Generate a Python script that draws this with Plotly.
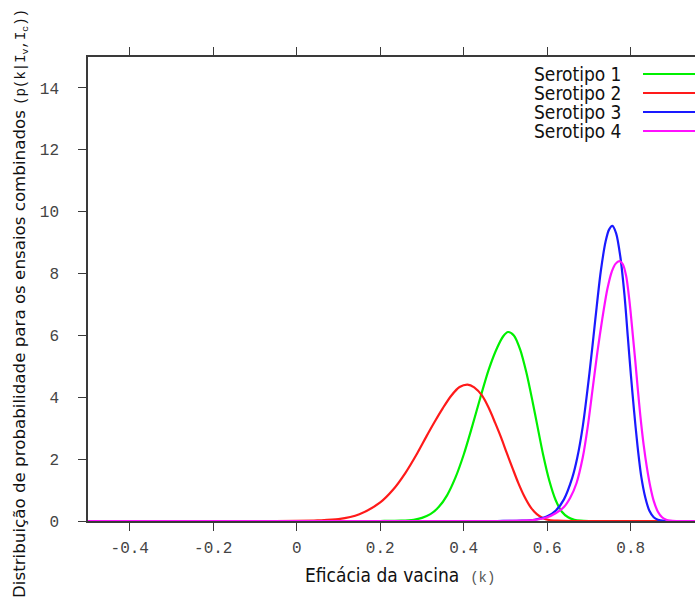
import plotly.graph_objects as go

# ---------------- data ----------------
serotipos = ["Serotipo 1", "Serotipo 2", "Serotipo 3", "Serotipo 4"]
cores = ["#00f000", "#ff1a1a", "#1a1aff", "#ff10ff"]

k_s1 = [-0.5, 0.20, 0.25, 0.28, 0.30, 0.32, 0.34, 0.36, 0.38, 0.40, 0.42,
        0.44, 0.46, 0.48, 0.495, 0.506, 0.52, 0.535, 0.55, 0.565, 0.576,
        0.59, 0.605, 0.62, 0.635, 0.65, 0.665, 0.68, 0.70, 0.75, 1.0]
p_s1 = [0.0, 0.0, 0.01, 0.04, 0.10, 0.22, 0.45, 0.83, 1.40, 2.15, 3.05,
        4.00, 4.90, 5.60, 5.98, 6.11, 6.00, 5.55, 4.80, 3.85, 3.10,
        2.15, 1.30, 0.68, 0.30, 0.12, 0.04, 0.01, 0.0, 0.0, 0.0]

k_s2 = [-0.5, -0.05, 0.0, 0.05, 0.10, 0.15, 0.20, 0.23, 0.26, 0.289, 0.31,
        0.33, 0.35, 0.37, 0.39, 0.409, 0.425, 0.444, 0.46, 0.475, 0.49,
        0.503, 0.517, 0.53, 0.545, 0.56, 0.575, 0.59, 0.605, 0.625, 0.66,
        0.75, 1.0]
p_s2 = [0.0, 0.0, 0.005, 0.02, 0.06, 0.22, 0.60, 1.00, 1.55, 2.20, 2.72,
        3.20, 3.65, 4.05, 4.33, 4.41, 4.32, 4.05, 3.65, 3.18, 2.68,
        2.20, 1.70, 1.25, 0.80, 0.45, 0.22, 0.09, 0.03, 0.01, 0.0,
        0.0, 0.0]

k_s3 = [-0.5, 0.48, 0.54, 0.57, 0.60, 0.62, 0.64, 0.66, 0.672, 0.685, 0.701,
        0.715, 0.728, 0.740, 0.748, 0.756, 0.765, 0.775, 0.785, 0.793, 0.800,
        0.808, 0.816, 0.825, 0.835, 0.845, 0.855, 0.865, 0.88, 0.90, 1.0]
p_s3 = [0.0, 0.0, 0.01, 0.04, 0.15, 0.33, 0.70, 1.40, 2.05, 3.05, 4.77,
        6.50, 8.05, 9.05, 9.42, 9.54, 9.30, 8.55, 7.30, 5.95, 4.77,
        3.55, 2.45, 1.45, 0.75, 0.32, 0.12, 0.04, 0.005, 0.0, 0.0]

k_s4 = [-0.5, 0.48, 0.54, 0.57, 0.60, 0.62, 0.64, 0.655, 0.67, 0.685, 0.697,
        0.708, 0.72, 0.732, 0.744, 0.755, 0.764, 0.773, 0.781, 0.789, 0.797,
        0.805, 0.811, 0.817, 0.823, 0.831, 0.839, 0.847, 0.855, 0.865, 0.875,
        0.885, 0.895, 0.91, 1.0]
p_s4 = [0.0, 0.0, 0.01, 0.035, 0.12, 0.25, 0.45, 0.75, 1.22, 2.05, 3.05,
        4.20, 5.45, 6.55, 7.50, 8.08, 8.32, 8.40, 8.30, 7.92, 7.10,
        6.00, 5.15, 4.25, 3.40, 2.45, 1.70, 1.10, 0.65, 0.30, 0.12,
        0.04, 0.01, 0.0, 0.0]

x_tickvals = [-0.4, -0.2, 0.0, 0.2, 0.4, 0.6, 0.8]
x_ticktext = ["-0.4", "-0.2", "0", "0.2", "0.4", "0.6", "0.8"]
y_tickvals = [0, 2, 4, 6, 8, 10, 12, 14]
y_ticktext = ["0", "2", "4", "6", "8", "10", "12", "14"]

series_k = [k_s1, k_s2, k_s3, k_s4]
series_p = [p_s1, p_s2, p_s3, p_s4]

# ---------------- figure ----------------
W, H = 695, 602
ML, MT, MB, MR = 88, 57, 81, 0
plot_h = H - MT - MB
plot_w = W - ML - MR
PX_PER_UNIT = 417.5

SANS_C = "DejaVu Sans Condensed, Liberation Sans Narrow, DejaVu Sans, sans-serif"
SANS = "DejaVu Sans, Liberation Sans, sans-serif"
MONO = "Liberation Mono, DejaVu Sans Mono, monospace"

fig = go.Figure()
for name, c, kk, pp in zip(serotipos, cores, series_k, series_p):
    fig.add_trace(go.Scatter(
        x=kk, y=pp, mode="lines", name=name,
        line=dict(color=c, width=2.2, shape="spline", smoothing=0.8),
        showlegend=False, hoverinfo="skip"))

axis_col = "#3a3a3a"
fig.update_xaxes(
    range=[-0.5, -0.5 + plot_w / PX_PER_UNIT], tickvals=x_tickvals, ticktext=x_ticktext,
    showgrid=False, zeroline=False, showline=True, linecolor=axis_col, linewidth=1.6,
    mirror="ticks", ticks="outside", ticklen=8, tickwidth=1.4, tickcolor=axis_col,
    tickfont=dict(family=MONO, size=16, color="#444444"), ticklabelstandoff=3)
fig.update_yaxes(
    range=[0, 15], tickvals=y_tickvals, ticktext=y_ticktext,
    showgrid=False, zeroline=False, showline=True, linecolor=axis_col, linewidth=1.6,
    ticks="outside", ticklen=8, tickwidth=1.4, tickcolor=axis_col,
    tickfont=dict(family=MONO, size=16, color="#444444"), ticklabelstandoff=16)

annotations = []
shapes = []
# legend (text right-aligned, sample line to the right)
leg_y_px = [74, 93, 112, 131]
for name, c, ypx in zip(serotipos, cores, leg_y_px):
    yp = (H - MB - ypx) / plot_h
    annotations.append(dict(
        text=name, xref="paper", yref="paper", x=(624 - ML) / plot_w, y=yp,
        xanchor="right", yanchor="middle", showarrow=False,
        font=dict(family=SANS_C, size=19, color="#111111")))
    shapes.append(dict(
        type="line", xref="paper", yref="paper",
        x0=(643 - ML) / plot_w, x1=1.05, y0=yp, y1=yp,
        line=dict(color=c, width=2.2)))

# x axis title
annotations.append(dict(
    text="Eficácia da vacina  <span style='font-family:Liberation Mono, monospace;"
         "font-size:14px;color:#555555'>(k)</span>",
    xref="x", yref="paper", x=(400 - 296.5) / PX_PER_UNIT, y=0, yshift=-(575 - (H - MB)),
    xanchor="center", yanchor="middle", showarrow=False,
    font=dict(family=SANS_C, size=19, color="#111111")))

# y axis title
annotations.append(dict(
    text="Distribuição de probabilidade para os ensaios combinados "
         "<span style='font-family:Liberation Mono, monospace;font-size:14px'>"
         "(p(k|I<sub>v</sub>,I<sub>c</sub>))</span>",
    xref="paper", yref="paper", x=0, xshift=-(ML - 20), y=(H - MB - 304) / plot_h,
    xanchor="center", yanchor="middle", textangle=-90, showarrow=False,
    font=dict(family=SANS, size=16.7, color="#111111")))

fig.update_layout(
    width=W, height=H, margin=dict(l=ML, r=MR, t=MT, b=MB, pad=0),
    paper_bgcolor="white", plot_bgcolor="white",
    annotations=annotations, shapes=shapes, showlegend=False)

fig.write_html(
    "out.html",
    config={"displayModeBar": False},
    post_script="document.body.style.margin='0';document.body.style.overflow='hidden';")
